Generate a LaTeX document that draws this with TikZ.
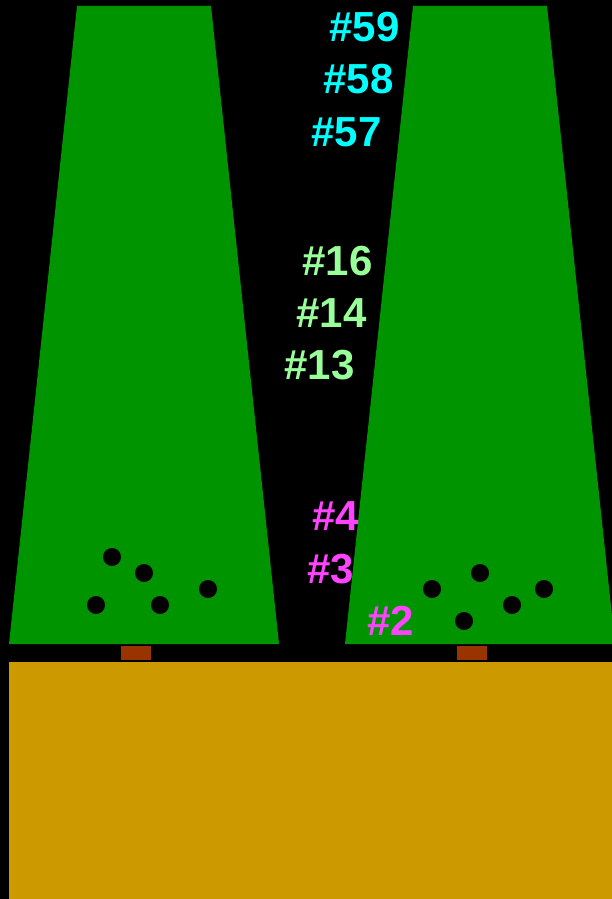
\documentclass[tikz,border=0pt]{standalone}
\usepackage{fontspec}
\setmainfont{Liberation Sans}
\usepackage{xcolor}
\usepackage{tikz}
\usetikzlibrary{positioning}
\definecolor{hedgegreen}{HTML}{009400}
\definecolor{trunkbrown}{HTML}{993300}
\definecolor{groundyellow}{HTML}{CC9900}
\definecolor{tagcyan}{HTML}{00FFFF}
\definecolor{taglime}{HTML}{99FF99}
\definecolor{tagpink}{HTML}{FF44FF}

\tikzset{
  tag/.style={inner sep=0pt, font=\fontsize{42}{42}\selectfont\bfseries},
  hole/.style={circle, fill=black, inner sep=0pt, minimum size=18pt},
}

\begin{document}
\begin{tikzpicture}[x=1pt, y=-1pt]
    \fill[black] (0,0) rectangle (612,899);
    \useasboundingbox (0,0) rectangle (612,899);

    % hedges
    \fill[hedgegreen] (77,6) -- (211,6) -- (279,644) -- (9,644) -- cycle;
    \fill[hedgegreen] (413,6) -- (547,6) -- (615,644) -- (345,644) -- cycle;

    % trunks and ground
    \fill[trunkbrown] (121,646) rectangle (151,660);
    \fill[trunkbrown] (457,646) rectangle (487,660);
    \fill[groundyellow] (9,662) rectangle (612,899);

    % holes
    \node[hole] (l1) at (112,557) {};
    \node[hole] (l2) at (144,573) {};
    \node[hole] (l3) at (96,605) {};
    \node[hole] (l4) at (160,605) {};
    \node[hole] (l5) at (208,589) {};
    \node[hole] (r1) at (432,589) {};
    \node[hole] (r2) at (480,573) {};
    \node[hole] (r3) at (464,621) {};
    \node[hole] (r4) at (512,605) {};
    \node[hole] (r5) at (544,589) {};

    % numbers
    \node[tag, text=tagcyan] (n59) at (364.5,27.5) {\#59};
    \node[tag, text=tagcyan] (n58) at (358.5,79.5) {\#58};
    \node[tag, text=tagcyan] (n57) at (346.5,132) {\#57};
    \node[tag, text=taglime] (n16) at (337.5,261) {\#16};
    \node[tag, text=taglime] (n14) at (331.5,313) {\#14};
    \node[tag, text=taglime] (n13) at (319.5,365.5) {\#13};
    \node[tag, text=tagpink] (n4) at (336,516) {\#4};
    \node[tag, text=tagpink] (n3) at (330.5,569) {\#3};
    \node[tag, text=tagpink] (n2) at (390.5,621) {\#2};
  \end{tikzpicture}
\end{document}
